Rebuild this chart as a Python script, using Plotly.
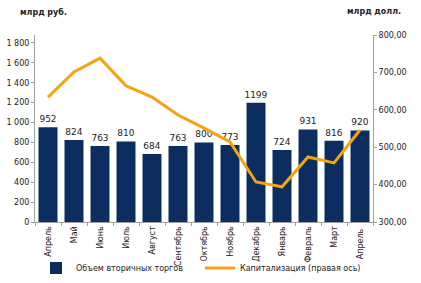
import plotly.graph_objects as go

months = ["Апрель", "Май", "Июнь", "Июль", "Август", "Сентябрь", "Октябрь",
          "Ноябрь", "Декабрь", "Январь", "Февраль", "Март", "Апрель "]
volume = [952, 824, 763, 810, 684, 763, 800, 773, 1199, 724, 931, 816, 920]
cap = [634, 701, 738, 664, 634, 586, 551, 514, 407, 394, 474, 458, 546]

left_ticks = [0, 200, 400, 600, 800, 1000, 1200, 1400, 1600, 1800]
left_labels = ["0", "200", "400", "600", "800", "1 000", "1 200", "1 400", "1 600", "1 800"]
right_ticks = [300, 400, 500, 600, 700, 800]
right_labels = ["300,00", "400,00", "500,00", "600,00", "700,00", "800,00"]

navy = "#0B2D5F"
orange = "#F5A30F"
font = "DejaVu Sans"

W, H = 421, 283
ML, MR, MT, MB = 35, 48, 35, 61
pw = W - ML - MR
ph = H - MT - MB


def px_to_paper(xp, yp):
    return (xp - ML) / pw, (H - MB - yp) / ph


fig = go.Figure()
fig.add_trace(go.Bar(
    x=months, y=volume, name="Объем вторичных торгов",
    marker=dict(color=navy, line=dict(width=0)),
    text=[str(v) for v in volume], textposition="outside",
    textfont=dict(size=9, color="#222222", family=font),
    constraintext="none",
    cliponaxis=False, yaxis="y", legend="legend",
))
fig.add_trace(go.Scatter(
    x=months, y=cap, name="Капитализация (правая ось)",
    mode="lines", line=dict(color=orange, width=3),
    yaxis="y2", legend="legend2",
))

a0 = px_to_paper(18, 12)
a1 = px_to_paper(345, 12)
lg1 = px_to_paper(36, 268)
lg2 = px_to_paper(200, 268)

fig.update_layout(
    width=W, height=H,
    margin=dict(l=ML, r=MR, t=MT, b=MB, autoexpand=False),
    paper_bgcolor="white", plot_bgcolor="white",
    font=dict(family=font, size=8, color="#222222"),
    bargap=0.27,
    showlegend=True,
    legend=dict(orientation="h", x=lg1[0], y=lg1[1], xanchor="left", yanchor="middle",
                font=dict(size=8, color="#222222"), bgcolor="rgba(0,0,0,0)",
                itemwidth=30),
    legend2=dict(orientation="h", x=lg2[0], y=lg2[1], xanchor="left", yanchor="middle",
                 font=dict(size=8, color="#222222"), bgcolor="rgba(0,0,0,0)",
                 itemwidth=30),
    xaxis=dict(
        type="category", tickangle=-90, tickson="boundaries",
        showline=True, linecolor="#A0A0A0", linewidth=1,
        ticks="outside", ticklen=3, tickcolor="#A0A0A0",
        tickfont=dict(size=8, color="#222222"), showgrid=False,
        automargin=False,
    ),
    yaxis=dict(
        range=[0, 1880], tickvals=left_ticks, ticktext=left_labels,
        showline=True, linecolor="#A0A0A0", linewidth=1,
        ticks="outside", ticklen=3, tickcolor="#A0A0A0",
        showgrid=False, zeroline=False, automargin=False,
        tickfont=dict(size=8, color="#222222"),
    ),
    yaxis2=dict(
        range=[300, 800], tickvals=right_ticks, ticktext=right_labels,
        overlaying="y", side="right",
        showline=True, linecolor="#A0A0A0", linewidth=1,
        ticks="outside", ticklen=3, tickcolor="#A0A0A0",
        showgrid=False, zeroline=False, automargin=False,
        tickfont=dict(size=8, color="#222222"),
    ),
    annotations=[
        dict(text="<b>млрд руб.</b>", x=a0[0], y=a0[1], xref="paper", yref="paper",
             showarrow=False, xanchor="left", yanchor="middle",
             font=dict(size=8, color="#222222")),
        dict(text="<b>млрд долл.</b>", x=a1[0], y=a1[1], xref="paper", yref="paper",
             showarrow=False, xanchor="left", yanchor="middle",
             font=dict(size=8, color="#222222")),
    ],
)

fig.write_html("out.html", config={"displayModeBar": False})

# remove default page margin so the figure sits at the window's top-left corner
with open("out.html", "r", encoding="utf-8") as f:
    html = f.read()
html = html.replace("<head>", "<head><style>html,body{margin:0;padding:0;overflow:hidden;}</style>", 1)
with open("out.html", "w", encoding="utf-8") as f:
    f.write(html)
